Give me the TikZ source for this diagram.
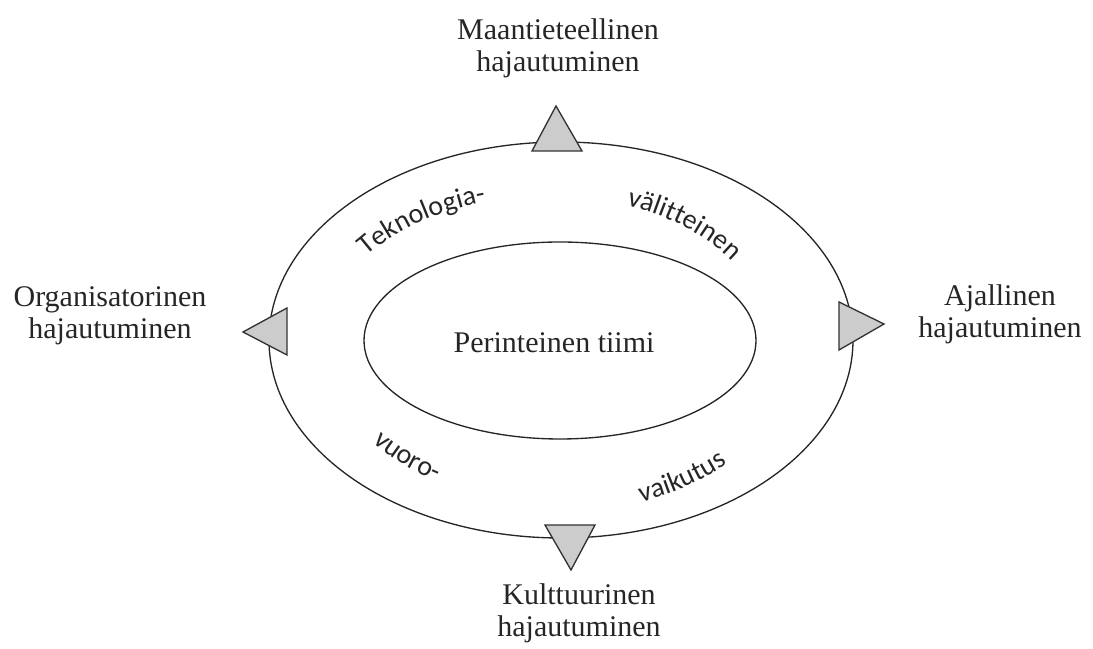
\documentclass[tikz,border=0pt]{standalone}
\usepackage{fontspec}
\setmainfont{Liberation Serif}
\newfontfamily\arcfont{Carlito}
\usetikzlibrary{decorations.text}
\begin{document}
\begin{tikzpicture}[x=0.75pt,y=0.75pt,
  lbl/.style={align=center, font=\fontsize{22.5}{24}\selectfont, text=black!85, inner sep=0pt},
  ring/.style={draw=black!85, line width=1pt},
  tri/.style={draw=black!80, line width=1pt, fill=black!20, line join=miter},
  arctext/.style={decorate, decoration={text along path, text align=center,
     text={|\arcfont\fontsize{21}{21}\selectfont\color{black!85}|#1}}}
]
\useasboundingbox (0,0) rectangle (1093,649);
% rings
\draw[ring] (561,309) ellipse [x radius=292, y radius=198];
\draw[ring] (560,308.5) ellipse [x radius=196, y radius=98.5];
% triangles
\coordinate (tA) at (556,543);
\coordinate (lA) at (243,317);
\coordinate (rA) at (884,325);
\coordinate (bA) at (571,79);
\draw[tri] (tA) -- (582,498) -- (532,498) -- cycle;
\draw[tri] (lA) -- (287,341) -- (287,294) -- cycle;
\draw[tri] (rA) -- (839,347) -- (839,299) -- cycle;
\draw[tri] (bA) -- (545,124) -- (595,124) -- cycle;
% labels
\node[lbl] (top) at (558,601) {Maantieteellinen\\hajautuminen};
\node[lbl] (left) at (110,333.5) {Organisatorinen\\hajautuminen};
\node[lbl] (right) at (1000,335) {Ajallinen\\hajautuminen};
\node[lbl] (bottom) at (579,36) {Kulttuurinen\\hajautuminen};
\node[lbl] (center) at (554,306) {Perinteinen tiimi};
% curved texts
\path[arctext={Teknologia-}] (550,309) ++(150:226 and 144)
   arc[start angle=150, end angle=102, x radius=226, y radius=144];
\path[arctext={välitteinen}] (550,309) ++(78:218 and 144)
   arc[start angle=78, end angle=22, x radius=218, y radius=144];
\path[arctext={vuoro-}] (561,309) ++(212:240 and 165)
   arc[start angle=212, end angle=244, x radius=240, y radius=165];
\path[arctext={vaikutus}] (561,309) ++(285:240 and 172)
   arc[start angle=285, end angle=319, x radius=240, y radius=172];
\end{tikzpicture}
\end{document}
